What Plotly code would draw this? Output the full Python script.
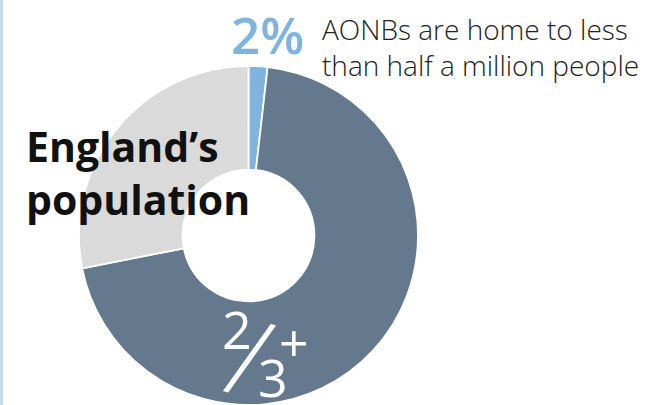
import plotly.graph_objects as go

# Data
labels = ["AONBs", "Rest of England's population (majority)", "Other"]
values = [1.8, 70.1, 28.1]
colors = ["#7fb3e0", "#64798d", "#dadada"]

W, H = 662, 405

def px(x):
    return x / W

def py(y):
    return 1 - y / H

fig = go.Figure()
fig.add_trace(go.Pie(
    labels=labels,
    values=values,
    sort=False,
    direction="clockwise",
    rotation=0,
    hole=0.389,
    marker=dict(colors=colors, line=dict(color="white", width=1.8)),
    textinfo="none",
    hoverinfo="none",
    showlegend=False,
    domain=dict(x=[79 / W, 418 / W], y=[0, 339 / H]),
))

font_family = "Open Sans"

annotations = [
    dict(x=px(24), y=py(172.5), xanchor="left", yanchor="middle", align="left",
         text="England’s<br>population",
         font=dict(family=font_family, size=41, color="#111111", weight=700)),
    dict(x=px(229), y=py(34), xanchor="left", yanchor="middle",
         text="2%", font=dict(family=font_family, size=51, color="#7fb3e0", weight=600)),
    dict(x=px(320), y=py(47), xanchor="left", yanchor="middle", align="left",
         text="AONBs are home to less<br>than half a million people",
         font=dict(family=font_family, size=28, color="#222222", weight=300)),
    dict(x=px(236.5), y=py(328), xanchor="center", yanchor="middle",
         text="2", font=dict(family=font_family, size=52, color="white", weight=400)),
    dict(x=px(250.5), y=py(355), xanchor="center", yanchor="middle",
         text="/", textangle=15,
         font=dict(family=font_family, size=108, color="white", weight=300)),
    dict(x=px(273), y=py(376), xanchor="center", yanchor="middle",
         text="3", font=dict(family=font_family, size=52, color="white", weight=400)),
    dict(x=px(293.5), y=py(341), xanchor="center", yanchor="middle",
         text="+", font=dict(family=font_family, size=52, color="white", weight=400)),
]
for a in annotations:
    a.update(xref="paper", yref="paper", showarrow=False)

fig.update_layout(
    width=W, height=H,
    margin=dict(l=0, r=0, t=0, b=0, pad=0),
    paper_bgcolor="white",
    plot_bgcolor="white",
    annotations=annotations,
    shapes=[dict(type="line", xref="paper", yref="paper", x0=1.5 / W, x1=1.5 / W,
                 y0=0, y1=1, line=dict(color="#c6daf2", width=3))],
)

fig.write_html("out.html")
